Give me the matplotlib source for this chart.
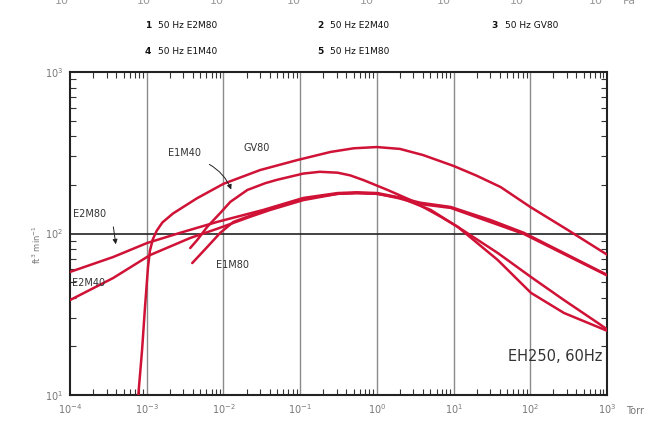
import matplotlib
matplotlib.use('agg')

import matplotlib.pyplot as plt
from matplotlib.ticker import LogLocator, NullFormatter, FixedLocator

# pressure in Torr, pumping speed
p_gv80 = [7.7e-4, 8.7e-4, 9.5e-4, 1.04e-3, 1.1e-3, 1.2e-3, 1.35e-3, 1.6e-3, 2.2e-3, 4.5e-3,
          1e-2, 3e-2, 9.2e-2, 0.25, 0.5, 1.0, 2.0, 4.0, 10, 20, 41, 100, 310, 1000]
s_gv80 = [9.5, 19, 35, 62, 78, 92, 104, 117, 133, 165, 203, 247, 285, 320, 337, 343, 334,
          306, 262, 228, 194, 146, 105, 74]

p_e2m80 = [1e-4, 3.65e-4, 1.01e-3, 2.73e-3, 8.31e-3, 3.32e-2, 0.110, 0.307, 0.55, 1.02, 1.86,
           3.72, 9.18, 30.6, 82.5, 275, 1000]
s_e2m80 = [57.8, 71.5, 87.3, 101, 118, 140, 166, 178, 180, 178, 168, 155, 146, 121, 101, 75.7, 55.5]

p_e2m40 = [1e-4, 3.65e-4, 1.11e-3, 3.69e-3, 8.31e-3, 2.24e-2, 4.09e-2, 0.110, 0.307, 0.55,
           1.02, 2.04, 5.03, 11.3, 37.7, 102, 275, 1000]
s_e2m40 = [38.7, 53.0, 73.6, 93.8, 107, 127, 140, 161, 176, 178, 176, 166, 140, 110, 68.5,
           42.9, 32.2, 25.0]

p_e1m80 = [3.92e-3, 6.15e-3, 9.10e-3, 1.35e-2, 3.03e-2, 0.110, 0.307, 0.55, 1.02, 1.86, 3.72,
           9.18, 82.5, 275, 1000]
s_e1m80 = [65.6, 82.5, 101, 118, 136, 164, 176, 178, 176, 166, 152, 144, 99.3, 74.6, 55.0]

p_e1m40 = [3.69e-3, 4.56e-3, 6.15e-3, 9.10e-3, 1.23e-2, 2.05e-2, 3.52e-2, 0.05, 0.110, 0.18,
           0.307, 0.45, 0.671, 1.38, 2.76, 6.80, 11.3, 37.7, 102, 275, 763, 1000]
s_e1m40 = [81.3, 91.2, 110, 134, 157, 186, 205, 215, 235, 241, 238, 229, 214, 186, 161, 127,
           110, 75.7, 53.8, 38.7, 27.9, 25.5]

legend_nums = ['1', '2', '3', '4', '5']
legend_names = ['50 Hz E2M80', '50 Hz E2M40', '50 Hz GV80', '50 Hz E1M40', '50 Hz E1M80']

x_ticks = [1e-4, 1e-3, 1e-2, 1e-1, 1e0, 1e1, 1e2, 1e3]
x_labels = [r'$10^{-4}$', r'$10^{-3}$', r'$10^{-2}$', r'$10^{-1}$', r'$10^{0}$',
            r'$10^{1}$', r'$10^{2}$', r'$10^{3}$']
y_ticks = [10, 100, 1000]
y_labels = [r'$10^{1}$', r'$10^{2}$', r'$10^{3}$']

red = '#cf1236'
W, H = 649, 429

fig = plt.figure(figsize=(W / 100, H / 100), dpi=100)
ax = fig.add_axes([70 / W, 1 - 395 / H, 537 / W, 323 / H])
ax.set_xscale('log')
ax.set_yscale('log')
ax.set_xlim(1e-4, 1e3)
ax.set_ylim(10, 1000)

# decade grid
for xt in x_ticks[1:-1]:
    ax.axvline(xt, color='#8a8a8a', lw=1.0, zorder=1)
ax.axhline(100, color='#222222', lw=1.2, zorder=1)

for p, s in [(p_gv80, s_gv80), (p_e2m80, s_e2m80), (p_e2m40, s_e2m40),
             (p_e1m80, s_e1m80), (p_e1m40, s_e1m40)]:
    ax.plot(p, s, color=red, lw=1.8, solid_capstyle='round', solid_joinstyle='round', zorder=3)

for sp in ax.spines.values():
    sp.set_linewidth(1.5)
    sp.set_color('#222222')

ax.xaxis.set_major_locator(FixedLocator(x_ticks))
ax.set_xticklabels(x_labels)
ax.yaxis.set_major_locator(FixedLocator(y_ticks))
ax.set_yticklabels(y_labels)
ax.xaxis.set_minor_locator(LogLocator(base=10, subs=range(2, 10), numticks=20))
ax.yaxis.set_minor_locator(LogLocator(base=10, subs=range(2, 10), numticks=20))
ax.xaxis.set_minor_formatter(NullFormatter())
ax.yaxis.set_minor_formatter(NullFormatter())
ax.tick_params(which='both', direction='in', top=True, right=True, colors='#333333',
               labelcolor='#777777', labelsize=7)
ax.tick_params(which='major', length=0, pad=5)
ax.tick_params(which='minor', length=4, width=0.8)

fig.text(626 / W, 1 - 411 / H, 'Torr', fontsize=7, color='#777777', va='center')
fig.text(37 / W, 1 - 245 / H, r'ft$^3$ min$^{-1}$', rotation=90, fontsize=6,
         color='#777777', ha='center', va='center')

# curve labels
lab = dict(transform=ax.transAxes, fontsize=7, color='#333333', ha='center', va='center')
ax.text(0.348, 0.765, 'GV80', **lab)
ax.text(0.214, 0.749, 'E1M40', **lab)
ax.text(0.037, 0.560, 'E2M80', **lab)
ax.text(0.034, 0.347, 'E2M40', **lab)
ax.text(0.302, 0.402, 'E1M80', **lab)
ax.text(0.903, 0.118, 'EH250, 60Hz', transform=ax.transAxes, fontsize=10.5,
        color='#333333', ha='center', va='center')
ax.annotate('', xy=(0.302, 0.628), xytext=(0.255, 0.718), xycoords='axes fraction',
            arrowprops=dict(arrowstyle='-|>', color='#222222', lw=0.7, mutation_scale=7,
                            connectionstyle='arc3,rad=-0.2'))
ax.annotate('', xy=(0.086, 0.458), xytext=(0.080, 0.529), xycoords='axes fraction',
            arrowprops=dict(arrowstyle='-|>', color='#222222', lw=0.7, mutation_scale=7))

# legend rows above the plot
num_x = [148, 320, 495, 148, 320]
row_y = [26, 26, 26, 51, 51]
for n, name, nx, ny in zip(legend_nums, legend_names, num_x, row_y):
    fig.text(nx / W, 1 - ny / H, n, fontsize=6.5, fontweight='bold', color='#111111',
             ha='center', va='center')
    fig.text((nx + 10) / W, 1 - ny / H, name, fontsize=6.5, color='#111111', va='center')

# remains of the Pa scale, cut off at the top edge as in the scan
pa_x = [62, 144, 217, 294, 367, 444, 517, 596]
for px in pa_x:
    fig.text(px / W, 1 - 1 / H, '10', fontsize=8, color='#999999', ha='center', va='center')
fig.text(629 / W, 1 - 1 / H, 'Pa', fontsize=8, color='#999999', ha='center', va='center')

fig.savefig('out.png', dpi=100)
